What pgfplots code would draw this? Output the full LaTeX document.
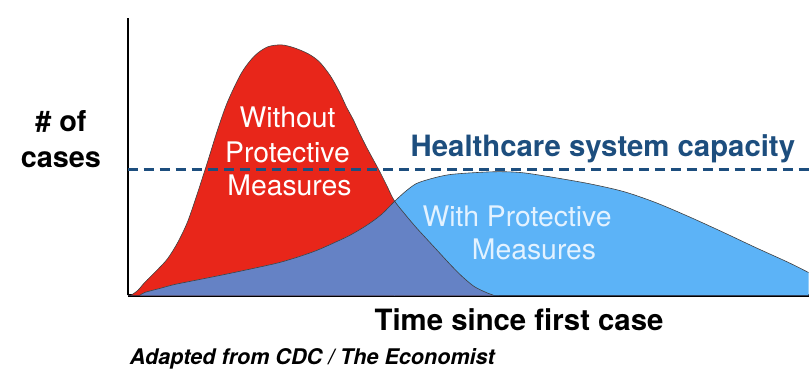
\documentclass[border=0pt]{standalone}
\usepackage{fontspec}
\setmainfont{TeX Gyre Heros}
\usepackage{pgfplots}
\pgfplotsset{compat=1.18}
\usepgfplotslibrary{fillbetween}
\definecolor{redc}{HTML}{E8261A}
\definecolor{bluec}{HTML}{5CB3F7}
\definecolor{overc}{HTML}{6582C5}
\definecolor{capc}{HTML}{1D4E7E}
\definecolor{wtext}{HTML}{E3F2FF}
\pgfplotstableread{
x y
131 0
138 5
145 13
158 26
168 37
178 53
188 74
198 103
208 134
218 166
228 194
242 223
255 240
268 249
282 251
295 248
309 242
320 234
331 220
340 204
347 189
354 176
360 163
367 149
374 136
381 123
388 109
395 95
406 81
417 68
428 56
440 43
452 30
463 19
475 9
487 3
495 0
}\redtab
\pgfplotstableread{
x y
140 0
145 3
160 7
175 11
200 16
225 21
258 28
280 33
300 39
317 45
333 52
350 60
367 70
382 81
395 94
406 104
417 112
432 117
450 121
475 123
500 124
523 123
550 119
590 112
625 104
657 93
690 79
723 64
757 48
790 33
810 23
}\bluetab
\begin{document}
\begin{tikzpicture}[x=1bp,y=1bp]
\begin{axis}[
  at={(128bp,86bp)}, anchor=south west,
  scale only axis, width=682bp, height=278bp,
  xmin=128, xmax=810, ymin=0, ymax=278,
  enlargelimits=false, clip=false,
  axis lines=left, axis line style={-, line width=2.2bp, black},
  xtick=\empty, ytick=\empty,
]
\addplot[name path=R, draw=none, smooth] table {\redtab};
\addplot[name path=B, draw=none, smooth] table {\bluetab};
\path[name path=base] (axis cs:128,0) -- (axis cs:810,0);
\addplot[fill=redc, draw=none] fill between[of=R and base];
\addplot[fill=bluec, draw=none] fill between[of=B and base];
\addplot[fill=overc, draw=none] fill between[of=B and base, soft clip={domain=128:395.5}];
\addplot[fill=overc, draw=none] fill between[of=R and base, soft clip={domain=394.5:500}];
\addplot[smooth, line width=0.6bp, black!75] table {\redtab};
\addplot[smooth, line width=0.6bp, black!75] table {\bluetab};
\addplot[capc, line width=3bp, dash pattern=on 10bp off 6bp] coordinates {(128,126) (810,126)};
% texts
\node[anchor=base, font=\fontsize{29}{30}\selectfont\bfseries] at (axis cs:61,164) {\# of};
\node[anchor=base, font=\fontsize{29}{30}\selectfont\bfseries] at (axis cs:61,128) {cases};
\node[anchor=base, white, font=\fontsize{28.5}{30}\selectfont] at (axis cs:288,168) {Without};
\node[anchor=base, white, font=\fontsize{28.5}{30}\selectfont] at (axis cs:288,133) {Protective};
\node[anchor=base, white, font=\fontsize{28.5}{30}\selectfont] at (axis cs:290,100) {Measures};
\node[anchor=base, wtext, font=\fontsize{28.5}{30}\selectfont] at (axis cs:518,69) {With Protective};
\node[anchor=base, wtext, font=\fontsize{28.5}{30}\selectfont] at (axis cs:535,36) {Measures};
\node[anchor=base, capc, font=\fontsize{29.5}{30}\selectfont\bfseries] at (axis cs:604,139) {Healthcare system capacity};
\node[anchor=base, font=\fontsize{29.5}{30}\selectfont\bfseries] at (axis cs:520,-35) {Time since first case};
\node[anchor=base west, inner sep=0pt, font=\fontsize{21.7}{22}\selectfont\bfseries\itshape] at (axis cs:130,-69) {Adapted from CDC / The Economist};
\path (axis cs:0,-86) rectangle (axis cs:810,296);
\end{axis}
\end{tikzpicture}
\end{document}
